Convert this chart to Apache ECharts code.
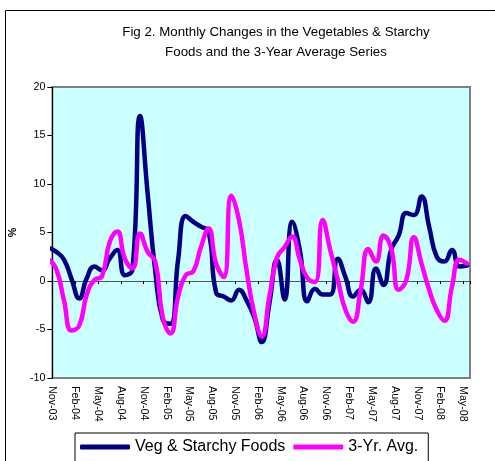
<!DOCTYPE html>
<html>
<head>
<meta charset="utf-8">
<script src="https://cdn.jsdelivr.net/npm/echarts@6/dist/echarts.min.js"></script>
<style>
html,body{margin:0;padding:0;background:#fff;}
#chart{width:495px;height:461px;}
</style>
</head>
<body>
<div id="chart"></div>
<script>
const months = ['Nov-03','Dec-03',
  'Jan-04','Feb-04','Mar-04','Apr-04','May-04','Jun-04','Jul-04','Aug-04','Sep-04','Oct-04','Nov-04','Dec-04',
  'Jan-05','Feb-05','Mar-05','Apr-05','May-05','Jun-05','Jul-05','Aug-05','Sep-05','Oct-05','Nov-05','Dec-05',
  'Jan-06','Feb-06','Mar-06','Apr-06','May-06','Jun-06','Jul-06','Aug-06','Sep-06','Oct-06','Nov-06','Dec-06',
  'Jan-07','Feb-07','Mar-07','Apr-07','May-07','Jun-07','Jul-07','Aug-07','Sep-07','Oct-07','Nov-07','Dec-07',
  'Jan-08','Feb-08','Mar-08','Apr-08','May-08','Jun-08'];

const tickLabels = ['Nov-03','Feb-04','May-04','Aug-04','Nov-04','Feb-05','May-05','Aug-05','Nov-05',
  'Feb-06','May-06','Aug-06','Nov-06','Feb-07','May-07','Aug-07','Nov-07','Feb-08','May-08'];

const vegStarchy = [3.4, 3.0, 2.2, 0.2, -1.8, 0.3, 1.5, 1.1, 2.3, 3.2, 0.6, 1.2,
  17.0, 9.0, 1.0, -4.0, -4.4, 2.2, 6.7, 6.1, 5.6, 5.1, -1.2, -1.6,
  -2.0, -0.9, -2.0, -3.7, -6.3, -2.3, 2.2, -1.9, 6.1, 3.2, -2.1, -0.8,
  -1.4, -1.4, 2.3, 0.4, -1.6, -0.9, -2.2, 1.3, -0.4, 3.2, 4.7, 7.0,
  6.8, 8.7, 5.6, 2.5, 2.0, 3.2, 1.5, 1.6];

const threeYrAvg = [2.2, 1.2, -2.0, -5.1, -4.6, -1.4, 0.1, 0.5, 4.0, 5.1, 2.3, 1.3,
  4.9, 3.0, 2.0, -3.8, -5.4, -1.6, 0.6, 1.0, 3.5, 5.4, 1.8, 0.4,
  8.8, 6.3, 1.1, -3.3, -5.7, -1.6, 2.4, 3.5, 4.6, 2.2, 0.3, -0.1,
  6.3, 3.2, 0.1, -3.0, -4.2, -0.9, 3.3, 2.0, 4.7, 3.4, -0.9, 0.1,
  4.5, 1.8, -0.9, -3.0, -4.1, -0.6, 2.2, 1.8];

const seriesNames = ['Veg & Starchy Foods', '3-Yr. Avg.'];
const yTicks = {min: -10, max: 20, step: 5};

// layout constants
const FONT = 'Liberation Sans, Arial, sans-serif';
const SHIFT = 0.47;      // points sit about half a month left of their tick labels
const XMAX = 54.9;

function pairs(arr) { return arr.map((v, i) => [i - SHIFT, v]); }

const chart = echarts.init(document.getElementById('chart'), null, {renderer: 'canvas', width: 495, height: 461});

const labelFmt = function (v) {
  if (Math.abs(v - Math.round(v)) > 1e-6) return '';
  const r = Math.round(v);
  if (r % 3 !== 0) return '';
  return tickLabels[r / 3] || '';
};

chart.setOption({
  animation: false,
  backgroundColor: '#ffffff',
  title: {
    text: 'Fig 2. Monthly Changes in the Vegetables & Starchy\nFoods and the 3-Year Average Series',
    left: 276, top: 22, padding: 0,
    textAlign: 'center',
    textStyle: {fontFamily: FONT, fontSize: 13.3, fontWeight: 'normal', color: '#000', lineHeight: 20}
  },
  grid: {
    left: 43, right: 25, top: 87, bottom: 83,
    show: true, backgroundColor: '#CCFFFF', borderColor: '#808080', borderWidth: 2,
    containLabel: false
  },
  xAxis: [
    {
      type: 'value', min: 0, max: XMAX, interval: 3, position: 'bottom',
      axisLine: {show: false, onZero: false},
      axisTick: {show: false},
      splitLine: {show: false},
      axisLabel: {rotate: -90, margin: 8, fontSize: 10.7, fontFamily: FONT, color: '#000', formatter: labelFmt, showMaxLabel: false}
    },
    {
      type: 'value', min: 0, max: XMAX, interval: 3, position: 'bottom',
      axisLine: {show: true, onZero: true, lineStyle: {color: '#555', width: 1}},
      axisTick: {show: true, length: 3, lineStyle: {color: '#000'}},
      axisLabel: {show: false},
      splitLine: {show: false}
    }
  ],
  yAxis: {
    type: 'value', min: yTicks.min, max: yTicks.max, interval: yTicks.step,
    axisLine: {show: true, onZero: false, lineStyle: {color: '#000', width: 1}},
    axisTick: {show: true, length: 5, lineStyle: {color: '#000'}},
    splitLine: {show: false},
    axisLabel: {fontSize: 10.7, fontFamily: FONT, color: '#000', margin: 7},
    name: '%', nameLocation: 'middle', nameGap: 23, nameRotate: 90,
    nameTextStyle: {fontSize: 10.7, fontWeight: 'bold', color: '#000', fontFamily: FONT}
  },
  legend: {
    left: 75, top: 433,
    orient: 'horizontal',
    icon: 'roundRect',
    itemWidth: 50, itemHeight: 5, itemGap: 8,
    padding: [6, 10, 10, 5],
    borderColor: '#000', borderWidth: 1, backgroundColor: '#fff', borderRadius: 0,
    textStyle: {fontFamily: FONT, fontSize: 16, color: '#000'},
    data: seriesNames
  },
  graphic: [{
    type: 'rect', silent: true, z: 0,
    shape: {x: 5.5, y: 10.5, width: 560, height: 520},
    style: {fill: 'none', stroke: '#000', lineWidth: 1}
  }],
  series: [
    {
      name: seriesNames[0], type: 'line', xAxisIndex: 0, data: pairs(vegStarchy),
      smooth: 0.5, symbol: 'none', clip: true, color: '#000080',
      lineStyle: {width: 4.5, color: '#000080', cap: 'round', join: 'round'}
    },
    {
      name: seriesNames[1], type: 'line', xAxisIndex: 0, data: pairs(threeYrAvg),
      smooth: 0.5, symbol: 'none', clip: true, color: '#FF00FF',
      lineStyle: {width: 4.5, color: '#FF00FF', cap: 'round', join: 'round'}
    }
  ]
});
</script>
</body>
</html>
